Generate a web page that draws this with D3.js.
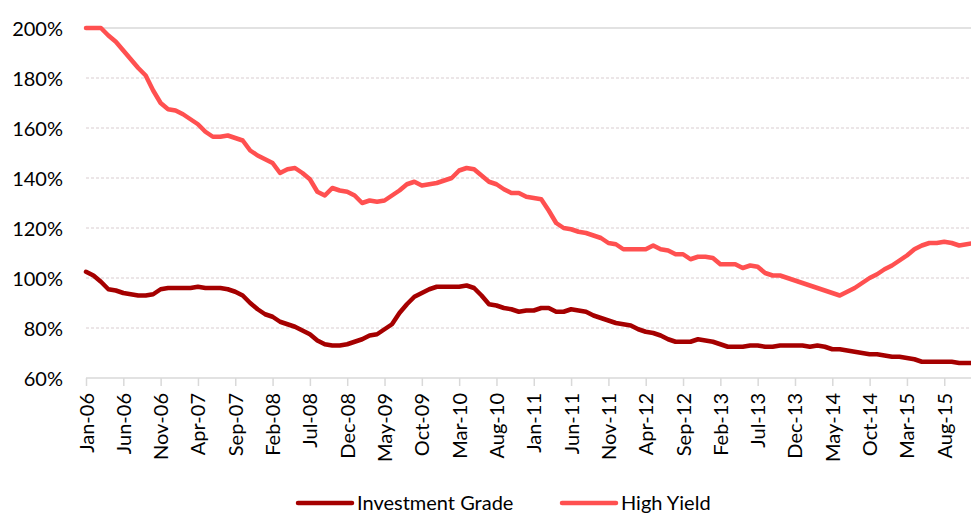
<!DOCTYPE html>
<html>
<head>
<meta charset="utf-8">
<script src="https://cdn.jsdelivr.net/npm/d3@7"></script>
<style>
  html, body { margin: 0; padding: 0; background: #fff; }
  svg { display: block; }
  text { font-family: Lato, "Open Sans", sans-serif; fill: #000; }
</style>
</head>
<body>
<svg id="chart" width="971" height="516"></svg>
<script>
// Monthly categories, Jan-06 through Dec-15
const fmt = d3.timeFormat("%b-%y");
const months = d3.timeMonth.range(new Date(2006, 0, 1), new Date(2016, 0, 1)).map(fmt);

// Labelled ticks (every fifth month)
const tickLabels = ["Jan-06","Jun-06","Nov-06","Apr-07","Sep-07","Feb-08","Jul-08","Dec-08",
  "May-09","Oct-09","Mar-10","Aug-10","Jan-11","Jun-11","Nov-11","Apr-12","Sep-12","Feb-13",
  "Jul-13","Dec-13","May-14","Oct-14","Mar-15","Aug-15"];

const yTicks = [60, 80, 100, 120, 140, 160, 180, 200];

// Series values, in percent
const investmentGrade = [
  102.5,101,98.5,95.5,95,94,93.5,93,93,93.5,95.5,96,
  96,96,96,96.5,96,96,96,95.5,94.5,93,90,87.5,
  85.5,84.5,82.5,81.5,80.5,79,77.5,75,73.5,73,73,73.5,
  74.5,75.5,77,77.5,79.5,81.5,86,89.5,92.5,94,95.5,96.5,
  96.5,96.5,96.5,97,96,93,89.5,89,88,87.5,86.5,87,
  87,88,88,86.5,86.5,87.5,87,86.5,85,84,83,82,
  81.5,81,79.5,78.5,78,77,75.5,74.5,74.5,74.5,75.5,75,
  74.5,73.5,72.5,72.5,72.5,73,73,72.5,72.5,73,73,73,
  73,72.5,73,72.5,71.5,71.5,71,70.5,70,69.5,69.5,69,
  68.5,68.5,68,67.5,66.5,66.5,66.5,66.5,66.5,66,66,66
];
const highYield = [
  200,200,200,197,194.5,191,187.5,184,181,175,170,167.5,
  167,165.5,163.5,161.5,158.5,156.5,156.5,157,156,155,151,149,
  147.5,146,142,143.5,144,142,139.5,134.5,133,136,135,134.5,
  133,130,131,130.5,131,133,135,137.5,138.5,137,137.5,138,
  139,140,143,144,143.5,141,138.5,137.5,135.5,134,134,132.5,
  132,131.5,127,122,120,119.5,118.5,118,117,116,114,113.5,
  111.5,111.5,111.5,111.5,113,111.5,111,109.5,109.5,107.5,108.5,108.5,
  108,105.5,105.5,105.5,104,105,104.5,102,101,101,100,99,
  98,97,96,95,94,93,94.5,96,98,100,101.5,103.5,
  105,107,109,111.5,113,114,114,114.5,114,113,113.5,114
];

const seriesNames = ["Investment Grade", "High Yield"];
const seriesColors = ["#a50000", "#ff5050"];
const seriesValues = [investmentGrade, highYield];

const svg = d3.select("#chart");
const W = 971, H = 516;
const plot = { left: 86, right: 86 + 119 * 7.463, top: 28, bottom: 378 };

const x = d3.scalePoint().domain(months).range([plot.left, plot.right]);
const y = d3.scaleLinear().domain([60, 200]).range([plot.bottom, plot.top]);

svg.append("defs").append("clipPath").attr("id", "clip")
  .append("rect").attr("x", 0).attr("y", 0).attr("width", W).attr("height", H);

// Horizontal gridlines
const grid = svg.append("g");
grid.selectAll("line").data(yTicks.filter(d => d > 60)).join("line")
  .attr("x1", plot.left).attr("x2", W)
  .attr("y1", d => y(d)).attr("y2", d => y(d))
  .attr("stroke", d => d === 200 ? "#d9d9d9" : "#d9cdd0")
  .attr("stroke-width", d => d === 200 ? 1.5 : 1)
  .attr("stroke-dasharray", d => d === 200 ? null : "3,2");

// Y axis labels
const yAxis = d3.axisLeft(y).tickValues(yTicks).tickFormat(d => d + "%").tickSize(0).tickPadding(0);
const gy = svg.append("g").attr("transform", `translate(${plot.left - 23},0)`).call(yAxis);
gy.select(".domain").remove();
gy.selectAll("text").attr("font-size", 20).attr("font-family", "Lato, sans-serif").attr("fill", "#000").attr("dy", "0.36em");

// X axis
const xAxis = d3.axisBottom(x).tickValues(tickLabels).tickSize(8).tickPadding(9);
const gx = svg.append("g").attr("transform", `translate(0,${plot.bottom})`).call(xAxis);
gx.select(".domain").attr("d", `M${plot.left},0H${W}`).attr("stroke", "#d9d9d9").attr("stroke-width", 1.5);
gx.selectAll(".tick line").attr("stroke", "#d9d9d9").attr("stroke-width", 1.5);
gx.selectAll(".tick text")
  .attr("font-size", 20).attr("font-family", "Lato, sans-serif").attr("fill", "#000")
  .attr("transform", "rotate(-90)")
  .attr("text-anchor", "end")
  .attr("x", -15).attr("y", 0).attr("dy", "0.35em");

// Lines
const line = d3.line().x((d, i) => x(months[i])).y(d => y(d)).curve(d3.curveLinear);
svg.append("g").attr("clip-path", "url(#clip)")
  .selectAll("path").data(seriesValues).join("path")
  .attr("d", line)
  .attr("fill", "none")
  .attr("stroke", (d, i) => seriesColors[i])
  .attr("stroke-width", 4.5)
  .attr("stroke-linejoin", "round")
  .attr("stroke-linecap", "round");

// Legend
const legendX = [298, 562];
const lg = svg.append("g");
seriesNames.forEach((name, i) => {
  const g = lg.append("g").attr("transform", `translate(${legendX[i]},503)`);
  g.append("line").attr("x1", 0).attr("x2", 54).attr("y1", 0).attr("y2", 0)
    .attr("stroke", seriesColors[i]).attr("stroke-width", 4.5).attr("stroke-linecap", "round");
  g.append("text").attr("x", 59).attr("y", 0).attr("dy", "0.36em")
    .attr("font-size", 20).text(name);
});
</script>
</body>
</html>
